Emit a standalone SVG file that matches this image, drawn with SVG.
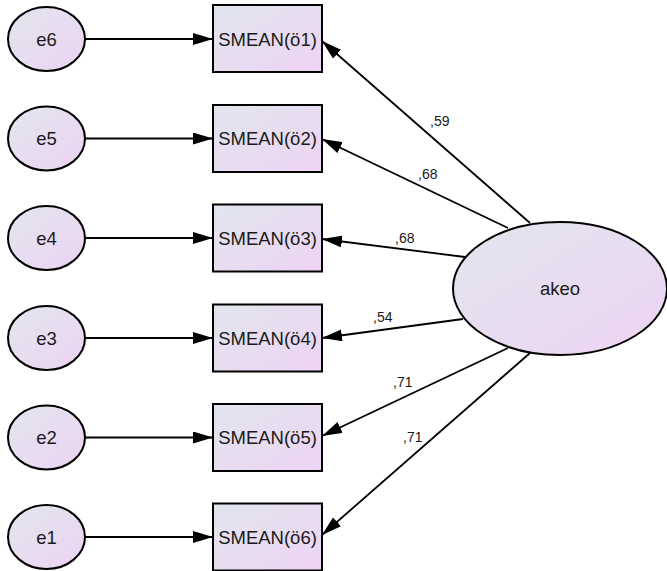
<svg xmlns="http://www.w3.org/2000/svg" width="667" height="571" viewBox="0 0 667 571">
<defs>
<linearGradient id="g" x1="0" y1="0" x2="1" y2="1">
<stop offset="0" stop-color="#e1e6ee"/>
<stop offset="1" stop-color="#eed3f3"/>
</linearGradient>
<marker id="ah" viewBox="0 0 20 12" refX="20" refY="6" markerWidth="20" markerHeight="12" markerUnits="userSpaceOnUse" orient="auto">
<path d="M0,0 L20,6 L0,12 Z" fill="#000"/>
</marker>
</defs>
<style>
.n{fill:url(#g);stroke:#000;stroke-width:2}
.t{font-family:"Liberation Sans",Arial,sans-serif;font-size:18.5px;fill:#1a1a1a;text-anchor:middle}
.l{font-family:"Liberation Sans",Arial,sans-serif;font-size:14px;fill:#1a1a1a}
.c{stroke:#000;stroke-width:1.8;fill:none;marker-end:url(#ah)}
</style>
<g id="connectors">
<line class="c" x1="85" y1="39" x2="213" y2="39"/>
<line class="c" x1="85" y1="138.5" x2="213" y2="138.5"/>
<line class="c" x1="85" y1="238" x2="213" y2="238"/>
<line class="c" x1="85" y1="338" x2="213" y2="338"/>
<line class="c" x1="85" y1="437.5" x2="213" y2="437.5"/>
<line class="c" x1="85" y1="537" x2="213" y2="537"/>
<line class="c" x1="530" y1="223" x2="322" y2="41"/>
<line class="c" x1="508" y1="228" x2="322" y2="139"/>
<line class="c" x1="465" y1="257" x2="322" y2="239"/>
<line class="c" x1="463" y1="319" x2="322" y2="338"/>
<line class="c" x1="508" y1="348" x2="322" y2="436"/>
<line class="c" x1="530" y1="353" x2="322" y2="535"/>
<text class="l" x="430" y="126">,59</text>
<text class="l" x="418" y="179">,68</text>
<text class="l" x="395" y="243">,68</text>
<text class="l" x="373" y="322">,54</text>
<text class="l" x="393" y="387">,71</text>
<text class="l" x="403" y="442">,71</text>
</g>
<g id="e6"><ellipse class="n" cx="46.5" cy="39" rx="38.5" ry="32"/><text class="t" x="46.5" y="45.5">e6</text></g>
<g id="e5"><ellipse class="n" cx="46.5" cy="138.5" rx="38.5" ry="32"/><text class="t" x="46.5" y="145">e5</text></g>
<g id="e4"><ellipse class="n" cx="46.5" cy="238" rx="38.5" ry="32"/><text class="t" x="46.5" y="244.5">e4</text></g>
<g id="e3"><ellipse class="n" cx="46.5" cy="338" rx="38.5" ry="32"/><text class="t" x="46.5" y="344.5">e3</text></g>
<g id="e2"><ellipse class="n" cx="46.5" cy="437.5" rx="38.5" ry="32"/><text class="t" x="46.5" y="444">e2</text></g>
<g id="e1"><ellipse class="n" cx="46.5" cy="537" rx="38.5" ry="32"/><text class="t" x="46.5" y="543.5">e1</text></g>
<g id="o1"><rect class="n" x="213" y="5" width="109" height="67"/><text class="t" x="267.5" y="45.5">SMEAN(ö1)</text></g>
<g id="o2"><rect class="n" x="213" y="105" width="109" height="67"/><text class="t" x="267.5" y="145">SMEAN(ö2)</text></g>
<g id="o3"><rect class="n" x="213" y="204.5" width="109" height="67"/><text class="t" x="267.5" y="244.5">SMEAN(ö3)</text></g>
<g id="o4"><rect class="n" x="213" y="304.5" width="109" height="67"/><text class="t" x="267.5" y="344.5">SMEAN(ö4)</text></g>
<g id="o5"><rect class="n" x="213" y="404" width="109" height="67"/><text class="t" x="267.5" y="444">SMEAN(ö5)</text></g>
<g id="o6"><rect class="n" x="213" y="503.5" width="109" height="67"/><text class="t" x="267.5" y="543.5">SMEAN(ö6)</text></g>
<g id="akeo"><ellipse class="n" cx="560" cy="288.5" rx="107" ry="66.5"/><text class="t" x="560" y="294.5">akeo</text></g>
</svg>
